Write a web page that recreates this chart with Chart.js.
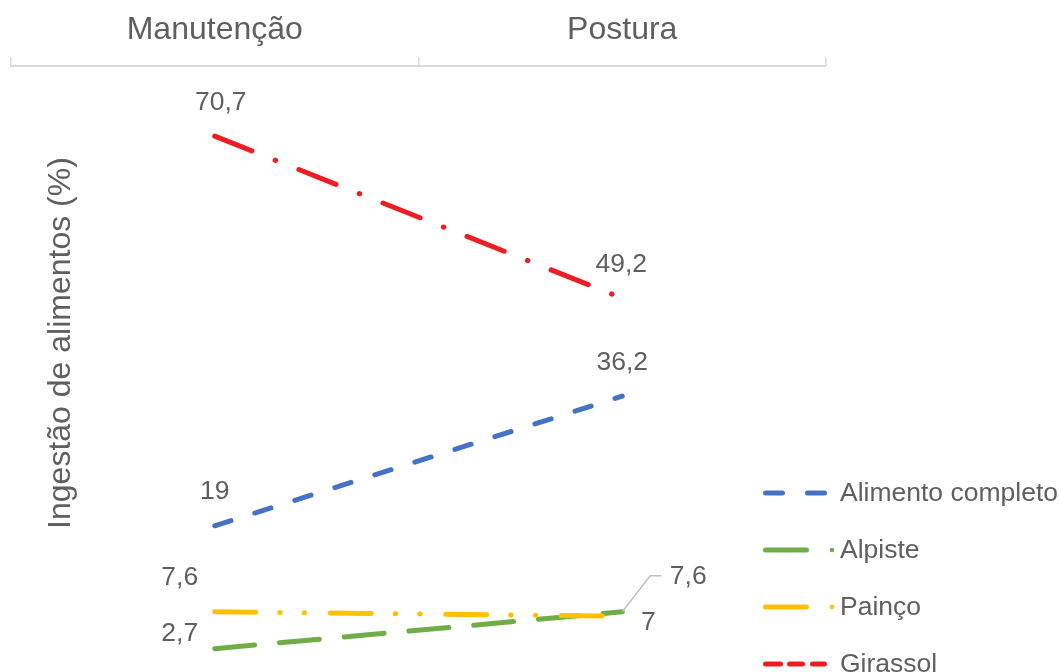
<!DOCTYPE html>
<html lang="pt-BR">
<head>
<meta charset="utf-8">
<title>Ingestão de alimentos (%)</title>
<script src="https://cdn.jsdelivr.net/npm/chart.js@4"></script>
<style>
  html, body { margin: 0; padding: 0; background: #ffffff; }
  #wrap { width: 1060px; height: 672px; overflow: hidden; }
</style>
</head>
<body>
<div id="wrap"><canvas id="chart" width="1060" height="672"></canvas></div>
<script>
// Categories and series values
const categories = ['Manutenção', 'Postura'];
const alimentoCompleto = [19, 36.2];
const alpiste = [2.7, 7.6];
const painco = [7.6, 7];
const girassol = [70.7, 49.2];
const seriesNames = ['Alimento completo', 'Alpiste', 'Painço', 'Girassol'];
const axisTitle = 'Ingestão de alimentos (%)';
const yRange = [0, 80];

const FONT = '"Liberation Sans", Arial, Helvetica, sans-serif';
const TEXT = '#5F5F5F';
const COLORS = { blue: '#4472C4', green: '#70AD47', yellow: '#FFC000', red: '#EE1D23' };

// Placement of each value label relative to its point (dx, dy in px)
const labelOffsets = {
  'Alimento completo': [[0, -34], [0, -33]],
  'Alpiste':           [[-35, -15], [66, -35]],
  'Painço':            [[-35, -34], [26, 6]],
  'Girassol':          [[6, -33], [-1, -33]]
};

const fmt = v => String(v).replace('.', ',');

// Value labels, callout line, rotated axis title and the legend
const annotations = {
  id: 'annotations',
  afterDraw(chart) {
    const { ctx, scales } = chart;
    const xs = scales.x, ys = scales.y;
    ctx.save();

    // data labels
    ctx.font = '26.5px ' + FONT;
    ctx.fillStyle = TEXT;
    ctx.textAlign = 'center';
    ctx.textBaseline = 'middle';
    chart.data.datasets.forEach(ds => {
      const offs = labelOffsets[ds.label];
      ds.data.forEach((v, i) => {
        const px = xs.getPixelForValue(i);
        const py = ys.getPixelForValue(v);
        ctx.fillText(fmt(v), px + offs[i][0], py + offs[i][1]);
      });
    });

    // callout for the Alpiste label at Postura
    const ax = xs.getPixelForValue(1), ay = ys.getPixelForValue(alpiste[1]);
    ctx.strokeStyle = '#BFBFBF';
    ctx.lineWidth = 1.5;
    ctx.beginPath();
    ctx.moveTo(ax, ay);
    ctx.lineTo(ax + 28, ay - 36);
    ctx.lineTo(ax + 39, ay - 36);
    ctx.stroke();

    // rotated axis title
    ctx.save();
    ctx.translate(61, 343);
    ctx.rotate(-Math.PI / 2);
    ctx.font = '32px ' + FONT;
    ctx.fillStyle = TEXT;
    ctx.textAlign = 'center';
    ctx.textBaseline = 'middle';
    ctx.fillText(axisTitle, 0, 0);
    ctx.restore();

    // legend
    const rows = [493, 550, 607, 664];
    const samples = [
      { color: COLORS.blue,   segs: [[765.5, 782.5], [807.5, 824.5]], dot: false },
      { color: COLORS.green,  segs: [[765.5, 806.5]], dot: true },
      { color: COLORS.yellow, segs: [[765.5, 806.5]], dot: true },
      { color: COLORS.red,    segs: [[765.5, 780.5], [789.5, 802.5], [812.5, 824.5]], dot: false }
    ];
    ctx.lineCap = 'round';
    ctx.lineWidth = 5;
    samples.forEach((s, k) => {
      const y = rows[k];
      ctx.strokeStyle = s.color;
      s.segs.forEach(([a, b]) => {
        ctx.beginPath();
        ctx.moveTo(a, y);
        ctx.lineTo(b, y);
        ctx.stroke();
      });
      if (s.dot) {
        ctx.fillStyle = s.color;
        ctx.beginPath();
        ctx.arc(832, y, 2.3, 0, Math.PI * 2);
        ctx.fill();
      }
      ctx.font = '26.5px ' + FONT;
      ctx.fillStyle = TEXT;
      ctx.textAlign = 'left';
      ctx.textBaseline = 'middle';
      ctx.fillText(seriesNames[k], 840, y + 1);
    });

    ctx.restore();
  }
};

const lineStyle = (label, data, color, dash, order) => ({
  label, data,
  borderColor: color,
  backgroundColor: color,
  borderWidth: 5,
  borderDash: dash,
  borderCapStyle: 'round',
  borderJoinStyle: 'round',
  pointRadius: 0,
  pointHoverRadius: 0,
  tension: 0,
  fill: false,
  order
});

new Chart(document.getElementById('chart'), {
  type: 'line',
  data: {
    labels: categories,
    datasets: [
      lineStyle(seriesNames[0], alimentoCompleto, COLORS.blue, [17, 25], 3),
      lineStyle(seriesNames[1], alpiste, COLORS.green, [40, 25], 2),
      lineStyle(seriesNames[2], painco, COLORS.yellow, [41, 24, 0.5, 24, 0.5, 25.5], 1),
      lineStyle(seriesNames[3], girassol, COLORS.red, [40, 25, 0.5, 25], 0)
    ]
  },
  options: {
    responsive: false,
    animation: false,
    devicePixelRatio: 1,
    layout: { padding: { left: 11, right: 234, top: 0, bottom: 3 } },
    plugins: {
      legend: { display: false },
      tooltip: { enabled: false }
    },
    scales: {
      x: {
        position: 'top',
        offset: true,
        grid: {
          offset: true,
          drawOnChartArea: false,
          drawTicks: true,
          tickLength: 9,
          color: '#D9D9D9',
          lineWidth: 1.5
        },
        border: { display: true, color: '#D9D9D9', width: 2 },
        ticks: {
          color: TEXT,
          font: { family: FONT, size: 32 },
          padding: 8,
          maxRotation: 0
        },
        afterFit(scale) { scale.height = 66; }
      },
      y: {
        display: false,
        min: yRange[0],
        max: yRange[1]
      }
    }
  },
  plugins: [annotations]
});
</script>
</body>
</html>
